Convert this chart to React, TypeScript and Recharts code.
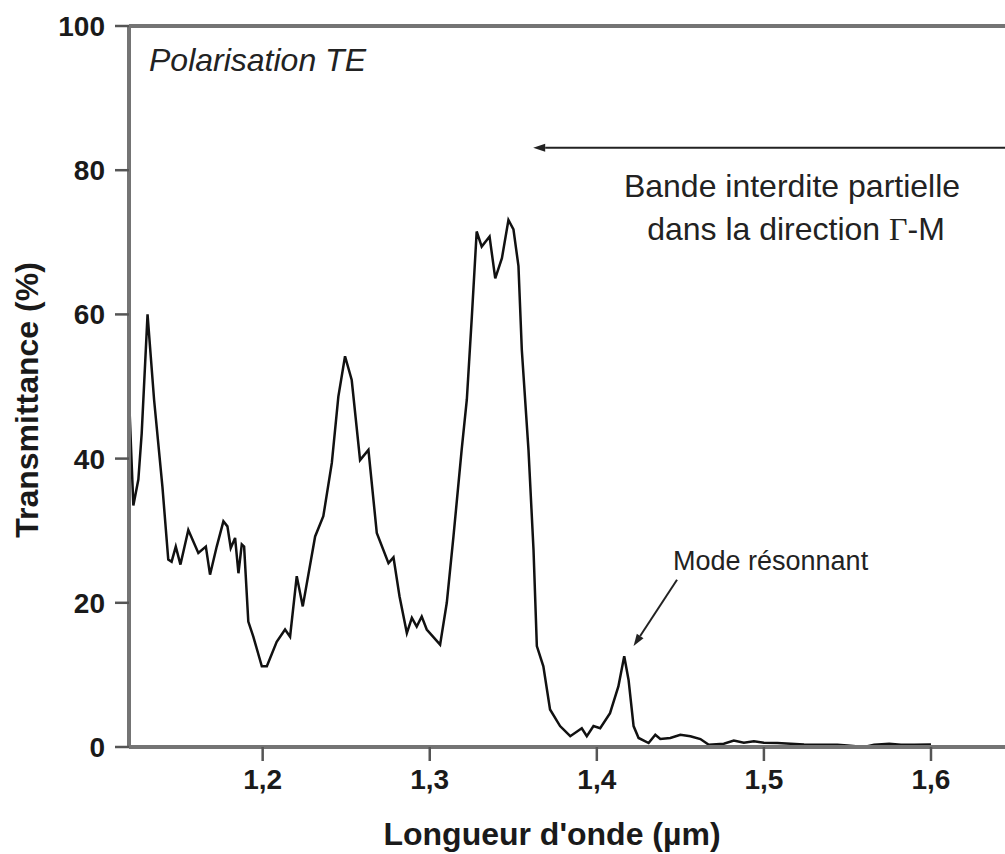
import { LineChart, Line, XAxis, YAxis, ReferenceLine } from "recharts"

// longueur d'onde (µm)
const wavelength = [
  1.12, 1.1226, 1.1256, 1.1276, 1.1311, 1.135, 1.14, 1.1435, 1.1455, 1.148,
  1.1508, 1.1555, 1.1615, 1.166, 1.1685, 1.1725, 1.1765, 1.1789, 1.1809, 1.1835,
  1.1855, 1.1875, 1.1889, 1.1914, 1.1944, 1.1995, 1.2025, 1.2084, 1.2134, 1.2164,
  1.2204, 1.224, 1.2314, 1.2363, 1.2414, 1.2453, 1.2493, 1.2533, 1.2583, 1.2633,
  1.2683, 1.2753, 1.2783, 1.2819, 1.2863, 1.2893, 1.2922, 1.2952, 1.2982, 1.3062,
  1.3102, 1.3142, 1.3191, 1.3222, 1.3252, 1.3281, 1.3311, 1.3358, 1.3392, 1.3432,
  1.3471, 1.3501, 1.3531, 1.3551, 1.3591, 1.3621, 1.3641, 1.368, 1.372, 1.378,
  1.3841, 1.391, 1.394, 1.398, 1.402, 1.4079, 1.4129, 1.4164, 1.419, 1.422,
  1.425, 1.431, 1.435, 1.438, 1.444, 1.45, 1.456, 1.462, 1.467, 1.476,
  1.482, 1.488, 1.494, 1.5, 1.508, 1.516, 1.524, 1.534, 1.544, 1.55,
  1.56, 1.566, 1.575, 1.582, 1.59, 1.6,
]

// transmittance (%)
const transmittance = [
  48.6, 33.5, 37.1, 43.5, 60.0, 48.2, 36.1, 26.0, 25.7, 27.8,
  25.3, 30.1, 26.9, 27.8, 23.9, 27.8, 31.3, 30.6, 27.6, 29.0,
  24.1, 28.1, 27.8, 17.4, 15.3, 11.2, 11.2, 14.6, 16.3, 15.3,
  23.7, 19.5, 29.2, 32.0, 39.4, 48.6, 54.2, 50.9, 39.8, 41.2,
  29.7, 25.5, 26.3, 20.9, 15.8, 17.9, 16.7, 18.1, 16.3, 14.2,
  20.0, 29.2, 41.2, 48.2, 59.7, 71.5, 69.4, 70.8, 65.0, 67.8,
  73.1, 71.8, 66.7, 55.1, 41.2, 27.4, 14.0, 11.2, 5.2, 2.9,
  1.5, 2.6, 1.5, 2.9, 2.6, 4.7, 8.4, 12.6, 9.3, 2.9,
  1.25, 0.55, 1.7, 1.1, 1.25, 1.7, 1.5, 1.1, 0.3, 0.45,
  0.9, 0.6, 0.8, 0.6, 0.55, 0.45, 0.35, 0.3, 0.3, 0.2,
  0, 0.3, 0.45, 0.3, 0.3, 0.35,
]

const xTicks = [1.2, 1.3, 1.4, 1.5, 1.6]
const yTicks = [0, 20, 40, 60, 80, 100]

const data = wavelength.map((w, i) => ({ w, t: transmittance[i] }))

const FONT = "'Liberation Sans', Arial, sans-serif"
const AXIS = "#747474"

function Arrow(props: any) {
  const { x1, y1, x2, y2 } = props
  // pointe de flèche côté (x2, y2)
  const ang = Math.atan2(y2 - y1, x2 - x1)
  const len = 12
  const w = 4
  const bx = x2 - len * Math.cos(ang)
  const by = y2 - len * Math.sin(ang)
  const px = -Math.sin(ang) * w
  const py = Math.cos(ang) * w
  return (
    <g>
      <line x1={x1} y1={y1} x2={bx} y2={by} stroke="#222" strokeWidth={2} />
      <polygon points={`${x2},${y2} ${bx + px},${by + py} ${bx - px},${by - py}`} fill="#222" />
    </g>
  )
}

export default function App() {
  return (
    <div style={{ position: "absolute", left: 0, top: 0, width: 1005, height: 854, overflow: "hidden", background: "#fff" }}>
      <LineChart
        width={1005}
        height={854}
        data={data}
        margin={{ top: 26, right: 0, left: 69, bottom: 47 }}
        style={{ fontFamily: FONT }}
      >
        <XAxis
          dataKey="w"
          type="number"
          domain={[1.12, 1.6443]}
          allowDataOverflow
          ticks={xTicks}
          tickFormatter={(v: number) => v.toFixed(1).replace(".", ",")}
          height={60}
          tickSize={14}
          tickMargin={8}
          axisLine={{ stroke: AXIS, strokeWidth: 4 }}
          tickLine={{ stroke: "#555", strokeWidth: 2.5 }}
          tick={{ fontSize: 28, fontWeight: 700, fill: "#1a1a1a" }}
        />
        <YAxis
          type="number"
          domain={[0, 100]}
          ticks={yTicks}
          width={60}
          tickSize={14}
          tickMargin={10}
          axisLine={{ stroke: AXIS, strokeWidth: 4 }}
          tickLine={{ stroke: "#555", strokeWidth: 2.5 }}
          tick={{ fontSize: 28, fontWeight: 700, fill: "#1a1a1a" }}
        />
        <ReferenceLine y={100} stroke={AXIS} strokeWidth={4} ifOverflow="visible" />
        <ReferenceLine
          segment={[{ x: 1.6443, y: 83.1 }, { x: 1.3619, y: 83.1 }]}
          ifOverflow="visible"
          shape={(p: any) => <Arrow {...p} />}
        />
        <ReferenceLine
          segment={[{ x: 1.448, y: 23.2 }, { x: 1.422, y: 14.0 }]}
          ifOverflow="visible"
          shape={(p: any) => <Arrow {...p} />}
        />
        <Line
          type="linear"
          dataKey="t"
          stroke="#111"
          strokeWidth={2.5}
          dot={false}
          isAnimationActive={false}
        />
      </LineChart>
      <svg
        width={1005}
        height={854}
        style={{ position: "absolute", left: 0, top: 0, pointerEvents: "none", fontFamily: FONT }}
      >
        <text x={149} y={71} fontSize={32} fontStyle="italic" fill="#222">
          Polarisation TE
        </text>
        <text x={792} y={197} fontSize={32} textAnchor="middle" fill="#222">
          Bande interdite partielle
        </text>
        <text x={796} y={240} fontSize={32} textAnchor="middle" fill="#222">
          dans la direction <tspan fontFamily="'Liberation Serif', serif">Γ</tspan>-M
        </text>
        <text x={673} y={570} fontSize={27} fill="#222">
          Mode résonnant
        </text>
        <text x={552} y={845} fontSize={32} fontWeight={700} textAnchor="middle" fill="#1a1a1a">
          Longueur d'onde (µm)
        </text>
        <text
          x={38}
          y={400}
          fontSize={32}
          fontWeight={700}
          textAnchor="middle"
          fill="#1a1a1a"
          transform="rotate(-90, 38, 400)"
        >
          Transmittance (%)
        </text>
      </svg>
    </div>
  )
}
